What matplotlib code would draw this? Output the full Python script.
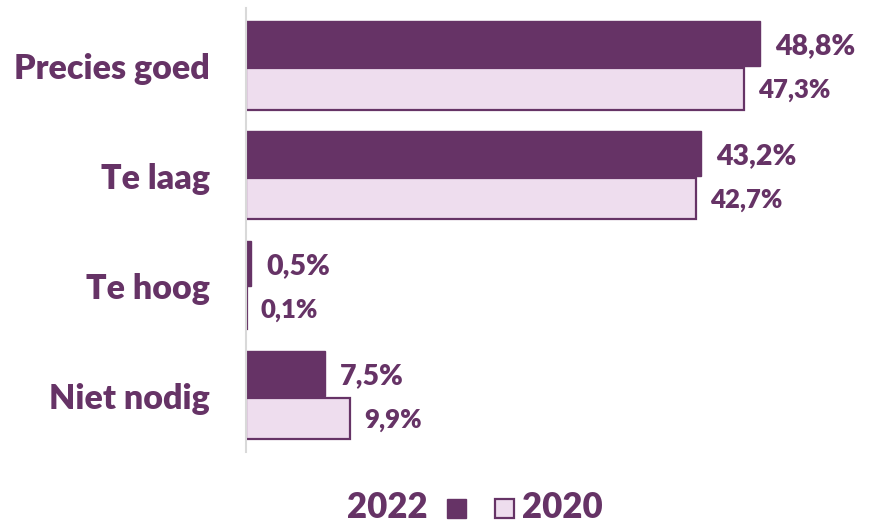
import matplotlib
matplotlib.use("Agg")
import matplotlib.pyplot as plt
from matplotlib.patches import Rectangle
import numpy as np

categories = ["Precies goed", "Te laag", "Te hoog", "Niet nodig"]
values_2022 = [48.8, 43.2, 0.5, 7.5]
values_2020 = [47.3, 42.7, 0.1, 9.9]
labels_2022 = ["48,8%", "43,2%", "0,5%", "7,5%"]
labels_2020 = ["47,3%", "42,7%", "0,1%", "9,9%"]
series_names = ["2022", "2020"]

DARK = "#663366"
LIGHT = "#EEDDEE"
FONT = ["Lato", "DejaVu Sans"]
plt.rcParams['font.family'] = FONT
WEIGHT = "heavy"

W, H = 876, 524
fig = plt.figure(figsize=(W / 100, H / 100), dpi=100)
ax = fig.add_axes([246 / W, (H - 452) / H, 1 - 246 / W, (452 - 8) / H])

y = np.arange(len(categories))
h = 0.41
ax.barh(y - h / 2, values_2022, height=h, color=DARK, edgecolor=DARK, linewidth=1)
ax.barh(y + h / 2, values_2020, height=h * 0.92, color=LIGHT, edgecolor=DARK, linewidth=1.6)

ax.set_xlim(0, (W - 246) / 10.53)
ax.set_ylim(3.51, -0.53)

for i in range(len(categories)):
    ax.annotate(labels_2022[i], (values_2022[i], y[i] - h / 2), xytext=(11, -2),
                textcoords="offset points", ha="left", va="center",
                fontsize=20.5, fontweight=WEIGHT, color=DARK)
    ax.annotate(labels_2020[i], (values_2020[i], y[i] + h / 2), xytext=(10, -1),
                textcoords="offset points", ha="left", va="center",
                fontsize=18.5, fontweight=WEIGHT, color=DARK)

ax.set_yticks(y)
ax.set_yticklabels(categories, fontsize=24.5, fontweight=WEIGHT, color=DARK)
ax.tick_params(axis="y", length=0, pad=26)
ax.set_xticks([])
for s in ["top", "right", "bottom"]:
    ax.spines[s].set_visible(False)
ax.spines["left"].set_color("#D9D9D9")
ax.spines["left"].set_linewidth(1.5)

# legend at bottom
ly = (H - 508) / H
fig.text(428 / W, ly, series_names[0], ha="right", va="center",
         fontsize=25, fontweight=WEIGHT, color=DARK)
fig.text(522 / W, ly, series_names[1], ha="left", va="center",
         fontsize=25, fontweight=WEIGHT, color=DARK)
sq = 19
fig.patches.append(Rectangle((447 / W, (H - 518) / H), sq / W, sq / H,
                             transform=fig.transFigure, facecolor=DARK,
                             edgecolor=DARK, linewidth=1))
fig.patches.append(Rectangle((495 / W, (H - 518) / H), sq / W, sq / H,
                             transform=fig.transFigure, facecolor=LIGHT,
                             edgecolor=DARK, linewidth=1.6))

fig.savefig("out.png", dpi=100)
